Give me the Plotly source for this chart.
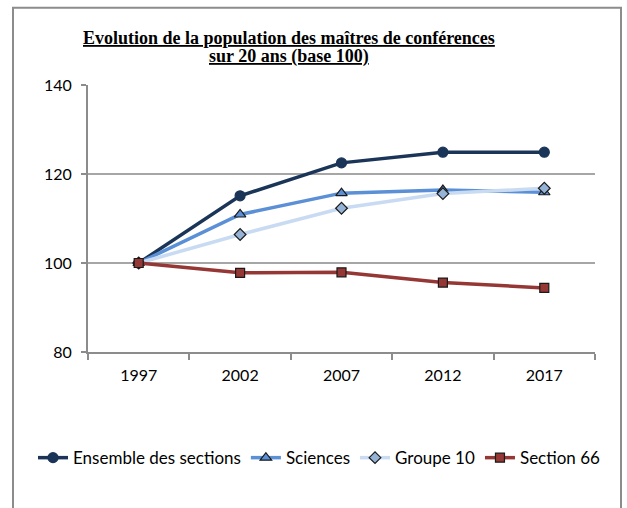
import plotly.graph_objects as go

years = ["1997", "2002", "2007", "2012", "2017"]
ensemble = [100, 115.1, 122.5, 124.9, 124.9]
sciences = [100, 110.9, 115.7, 116.4, 115.9]
groupe10 = [100, 106.4, 112.3, 115.6, 116.8]
section66 = [100, 97.8, 97.9, 95.6, 94.4]

series = [
    ("Ensemble des sections", ensemble, "#1B3558", "circle", "#1B3558", "#1B3558", 10),
    ("Sciences", sciences, "#5B8FD6", "triangle-up", "#5B8FD6", "#1a1a1a", 10),
    ("Groupe 10", groupe10, "#C9DBF2", "diamond", "#95B3D7", "#1a1a1a", 9),
    ("Section 66", section66, "#953735", "square", "#953735", "#1a1a1a", 9),
]

fig = go.Figure()
for name, vals, lc, sym, fc, oc, sz in series:
    fig.add_trace(go.Scatter(
        x=years, y=vals, name=name, mode="lines+markers",
        line=dict(color=lc, width=3.5),
        marker=dict(symbol=sym, size=sz, color=fc, line=dict(color=oc, width=1.2)),
    ))

W, H = 627, 508
L, R, T, B = 88, 32, 84.5, 155.5
pw = W - L - R
ph = H - T - B

def px_x(x):
    return (x - L) / pw

def px_y(y):
    return (H - B - y) / ph

title_font = dict(family="Liberation Serif, Times New Roman, serif", size=18, color="#000000")

fig.update_layout(
    width=W, height=H,
    margin=dict(l=L, r=R, t=T, b=B),
    paper_bgcolor="white", plot_bgcolor="white",
    font=dict(family="Lato, Liberation Sans, sans-serif", size=16, color="#000000"),
    showlegend=True,
    legend=dict(
        orientation="h", x=px_x(33), xanchor="left", y=px_y(459), yanchor="middle",
        font=dict(size=17, family="Lato, sans-serif"), itemwidth=30,
        traceorder="normal", bgcolor="rgba(0,0,0,0)",
    ),
    xaxis=dict(
        type="category", showgrid=False, showline=True, linecolor="#8c8c8c", linewidth=2,
        ticks="outside", tickson="boundaries", ticklen=6, tickcolor="#8c8c8c", tickwidth=1.5,
        tickfont=dict(size=16), range=[-0.5, 4.5], ticklabelstandoff=8,
    ),
    yaxis=dict(
        range=[80, 140], tickvals=[80, 100, 120, 140], showgrid=True, gridcolor="#a6a6a6",
        gridwidth=1.5, showline=True, linecolor="#8c8c8c", linewidth=2, zeroline=False,
        ticks="outside", ticklen=5, tickcolor="#8c8c8c", tickwidth=1.5,
        tickfont=dict(size=16), ticklabelstandoff=6,
    ),
    annotations=[
        dict(
            text="<b><u>Evolution de la population des maîtres de conférences</u></b>",
            x=px_x(289), y=px_y(37), xref="paper", yref="paper", xanchor="center", yanchor="middle",
            showarrow=False, font=title_font,
        ),
        dict(
            text="<b><u>sur 20 ans (base 100)</u></b>",
            x=px_x(289), y=px_y(56), xref="paper", yref="paper", xanchor="center", yanchor="middle",
            showarrow=False, font=title_font,
        ),
    ],
    shapes=[dict(
        type="rect", xref="paper", yref="paper",
        x0=px_x(13), x1=px_x(621), y0=px_y(530), y1=px_y(7),
        line=dict(color="#8c8c8c", width=2), fillcolor="rgba(0,0,0,0)", layer="below",
    )],
)

fig.write_html(
    "out.html",
    config={"displayModeBar": False},
    post_script="document.body.style.margin='0px';",
)
